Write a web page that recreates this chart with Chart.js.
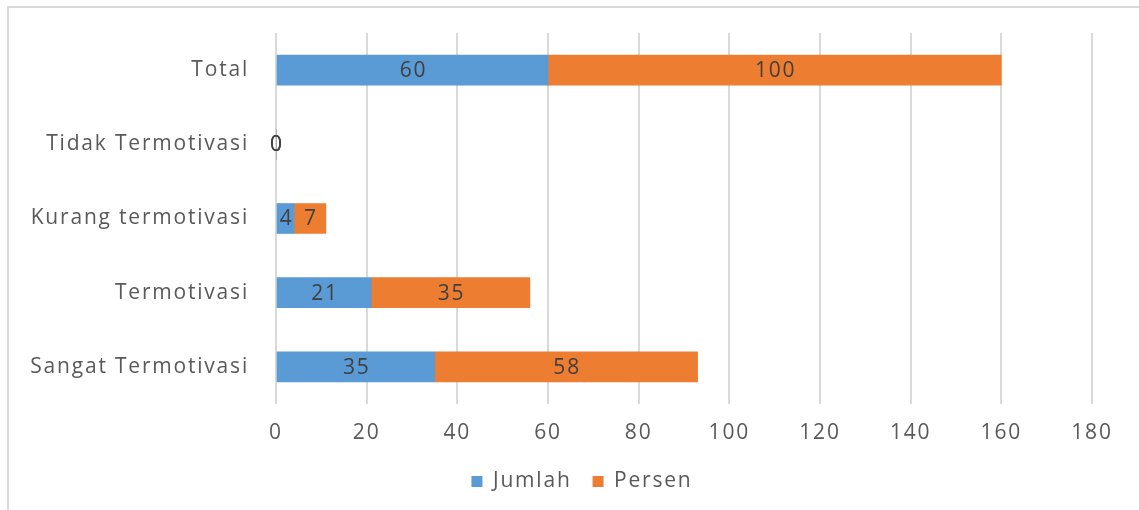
<!DOCTYPE html>
<html>
<head>
<meta charset="utf-8">
<script src="https://cdn.jsdelivr.net/npm/chart.js@4"></script>
<style>
  html, body { margin: 0; padding: 0; background: #fff; }
  #wrap { position: relative; width: 1139px; height: 510px; }
  #frame { position: absolute; left: 7px; top: 6px; right: -10px; bottom: -10px;
           border-top: 2px solid #d9d9d9; border-left: 2px solid #d9d9d9; pointer-events: none; }
</style>
</head>
<body>
<div id="wrap">
  <canvas id="chart" width="1139" height="510"></canvas>
  <div id="frame"></div>
</div>
<script>
// Categories from top to bottom as they appear
const categories = ["Total", "Tidak Termotivasi", "Kurang termotivasi", "Termotivasi", "Sangat Termotivasi"];
const jumlah = [60, 0, 4, 21, 35];
const persen = [100, 0, 7, 35, 58];
const xTicks = [0, 20, 40, 60, 80, 100, 120, 140, 160, 180];

const FONT = "'Open Sans', sans-serif";
const SIZE = 21;
const SPACING = "1.8px";

// the original text is wide, so add a bit of letter spacing to every text draw
// and move the legend a little to the right like in the original
const wideText = {
    id: "wideText",
    beforeLayout(chart) { chart.ctx.letterSpacing = SPACING; },
    beforeDraw(chart) {
        chart.ctx.letterSpacing = SPACING;
        chart.legend.left = 72;
    }
};

// draw value labels in the middle of each bar segment
const barLabels = {
    id: "barLabels",
    afterDatasetsDraw(chart) {
        const ctx = chart.ctx;
        ctx.save();
        ctx.letterSpacing = SPACING;
        ctx.font = SIZE + "px " + FONT;
        ctx.fillStyle = "#404040";
        ctx.textAlign = "center";
        ctx.textBaseline = "middle";
        chart.data.datasets.forEach((ds, i) => {
            const meta = chart.getDatasetMeta(i);
            meta.data.forEach((bar, j) => {
                const cx = (bar.x + bar.base) / 2 + 1;
                ctx.fillText(String(ds.data[j]), cx, bar.y + 1);
            });
        });
        ctx.restore();
    }
};

const ctx = document.getElementById("chart").getContext("2d");
const chart = new Chart(ctx, {
    type: "bar",
    data: {
        labels: categories,
        datasets: [
            { label: "Jumlah", data: jumlah, backgroundColor: "#5b9bd5", barThickness: 30 },
            { label: "Persen", data: persen, backgroundColor: "#ed7d31", barThickness: 30 }
        ]
    },
    options: {
        indexAxis: "y",
        responsive: false,
        animation: false,
        layout: { padding: { left: 0, right: 47, top: 33, bottom: 8 } },
        scales: {
            x: {
                stacked: true,
                min: 0,
                max: 180,
                afterBuildTicks: (scale) => { scale.ticks = xTicks.map(v => ({ value: v })); },
                grid: { color: "#d9d9d9", lineWidth: 2, drawTicks: false },
                border: { display: false },
                ticks: { color: "#595959", font: { family: FONT, size: SIZE }, padding: 16 },
                afterFit: (scale) => { scale.height = 46; }
            },
            y: {
                stacked: true,
                grid: { display: false },
                border: { display: false },
                ticks: { color: "#595959", font: { family: FONT, size: SIZE }, padding: 19 },
                afterFit: (scale) => {
                    scale.width = 276;
                    scale.paddingTop = 0;
                    scale.paddingBottom = 0;
                }
            }
        },
        plugins: {
            legend: {
                position: "bottom",
                labels: {
                    color: "#595959",
                    font: { family: FONT, size: SIZE },
                    boxWidth: 11,
                    boxHeight: 11,
                    padding: 21
                }
            },
            tooltip: { enabled: false }
        }
    },
    plugins: [wideText, barLabels]
});
</script>
</body>
</html>
